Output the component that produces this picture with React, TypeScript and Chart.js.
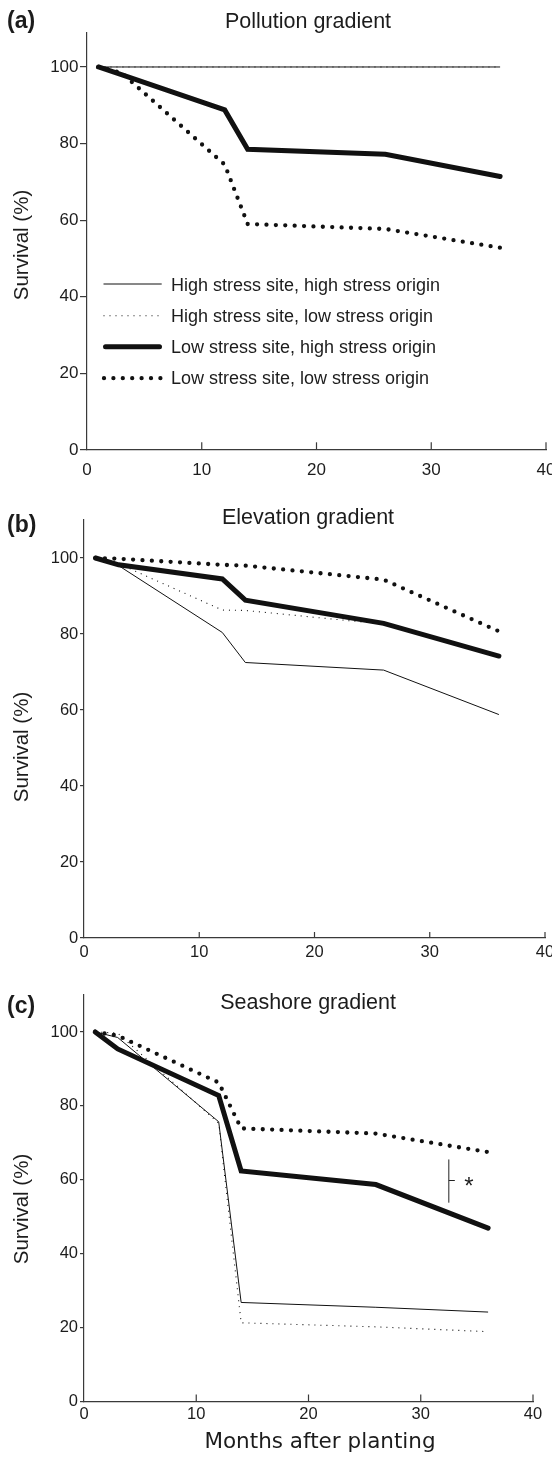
import React, { useEffect, useRef } from 'react';
import { Chart, registerables } from 'chart.js';

Chart.register(...registerables);

// ---------- data ----------
const months = [1, 3, 12, 14, 26, 36];
const xTickValues = [0, 10, 20, 30, 40];
const yTickValues = [0, 20, 40, 60, 80, 100];
const groupLabels = [
  'High stress site, high stress origin',
  'High stress site, low stress origin',
  'Low stress site, high stress origin',
  'Low stress site, low stress origin',
];

// (a) Pollution gradient
const pollutionHighHigh = [100, 100, 100, 100, 100, 100];
const pollutionHighLow = [100, 100, 100, 100, 100, 100];
const pollutionLowHigh = [100, 98, 88.8, 78.5, 77.2, 71.4];
const pollutionLowLow = [100, 98.5, 74.5, 59, 57.7, 52.8];

// (b) Elevation gradient
const elevationHighHigh = [100, 98, 80.4, 72.5, 70.5, 58.8];
const elevationHighLow = [100, 98.5, 86.3, 86.2, 82.6, 74.3];
const elevationLowHigh = [100, 98.2, 94.5, 88.9, 82.8, 74.2];
const elevationLowLow = [100, 99.8, 98.2, 98, 94.3, 80.7];

// (c) Seashore gradient
const seashoreHighHigh = [100, 98.5, 75.7, 26.8, 25.5, 24.2];
const seashoreHighLow = [100, 99.7, 75.3, 21.3, 20.2, 18.9];
const seashoreLowHigh = [100, 95.4, 82.8, 62.4, 58.7, 46.9];
const seashoreLowLow = [100, 99, 86.3, 73.9, 72.5, 67.5];

// significance bracket (data coordinates) in panel (c)
const sigBracket = { x: 32.5, yTop: 65.5, yBottom: 53.8, yMid: 59.8, starX: 34.3, label: '*' };

// ---------- styles ----------
const SANS = '"Liberation Sans", Arial, Helvetica, sans-serif';
const LINE = '#111111';
const AXIS = '#3a3a3a';
const TEXT = '#1c1c1c';

const seriesStyles: any[] = [
  { width: 1, dash: [], cap: 'butt' },
  { width: 1.1, dash: [1, 5], cap: 'butt' },
  { width: 5, dash: [], cap: 'round' },
  { width: 4.3, dash: [0, 9.4], cap: 'round' },
];

const panels: any[] = [
  {
    key: 'a', letter: '(a)', title: 'Pollution gradient',
    series: [pollutionHighHigh, pollutionHighLow, pollutionLowHigh, pollutionLowLow],
    top: 0, height: 485, chartLeft: 87, chartRight: 546, chartTop: 32.5, chartBottom: 450, yMax: 109,
    tickSize: 17, yTickLen: 7, yLabelPad: 1.5, xLabelPad: 10.3, xTickLen: 7.7,
    titleBaseline: 28.3, letterBaseline: 28.2, yTitleCenter: 245, legend: true,
  },
  {
    key: 'b', letter: '(b)', title: 'Elevation gradient',
    series: [elevationHighHigh, elevationHighLow, elevationLowHigh, elevationLowLow],
    top: 485, height: 485, chartLeft: 84, chartRight: 545, chartTop: 520, chartBottom: 938, yMax: 110,
    tickSize: 16.5, yTickLen: 4, yLabelPad: 1.7, xLabelPad: 4.1, xTickLen: 6,
    titleBaseline: 524.3, letterBaseline: 531.5, yTitleCenter: 747,
  },
  {
    key: 'c', letter: '(c)', title: 'Seashore gradient',
    series: [seashoreHighHigh, seashoreHighLow, seashoreLowHigh, seashoreLowLow],
    top: 970, height: 492, chartLeft: 84, chartRight: 533, chartTop: 995, chartBottom: 1401.5, yMax: 110,
    tickSize: 16.5, yTickLen: 4, yLabelPad: 2, xLabelPad: 3.5, xTickLen: 7,
    titleBaseline: 1009.3, letterBaseline: 1013, yTitleCenter: 1209,
    xTitle: 'Months after planting', xTitleBaseline: 1448.3, sig: true,
  },
];

function Panel({ cfg }: { cfg: any }) {
  const ref = useRef<HTMLCanvasElement>(null);

  useEffect(() => {
    const canvas = ref.current as HTMLCanvasElement;
    const top = cfg.top;

    const datasets = cfg.series.map((values: number[], i: number) => ({
      label: groupLabels[i],
      data: months.map((m, j) => ({ x: m, y: values[j] })),
      borderColor: LINE,
      backgroundColor: LINE,
      borderWidth: seriesStyles[i].width,
      borderDash: seriesStyles[i].dash,
      borderCapStyle: seriesStyles[i].cap,
      borderJoinStyle: 'miter',
      pointRadius: 0,
      pointHoverRadius: 0,
      fill: false,
      tension: 0,
    }));

    const decor = {
      id: 'decor' + cfg.key,
      afterDraw(chart: any) {
        const { ctx, chartArea, scales } = chart;
        const xs = scales.x;
        const ys = scales.y;
        ctx.save();

        // inward x ticks
        ctx.strokeStyle = AXIS;
        ctx.lineWidth = 1.2;
        xTickValues.forEach((v) => {
          if (v === 0) return;
          const px = xs.getPixelForValue(v);
          ctx.beginPath();
          ctx.moveTo(px, chartArea.bottom);
          ctx.lineTo(px, chartArea.bottom - cfg.xTickLen);
          ctx.stroke();
        });

        // panel title
        ctx.fillStyle = TEXT;
        ctx.textBaseline = 'alphabetic';
        ctx.textAlign = 'center';
        ctx.font = `21.5px ${SANS}`;
        ctx.fillText(cfg.title, 308, cfg.titleBaseline - top);

        // panel letter
        ctx.textAlign = 'left';
        ctx.font = `bold 23px ${SANS}`;
        ctx.fillText(cfg.letter, 7, cfg.letterBaseline - top);

        // y title
        ctx.save();
        ctx.translate(22, cfg.yTitleCenter - top);
        ctx.rotate(-Math.PI / 2);
        ctx.textAlign = 'center';
        ctx.textBaseline = 'middle';
        ctx.font = `20.5px ${SANS}`;
        ctx.fillText('Survival (%)', 0, 0);
        ctx.restore();

        // x title
        if (cfg.xTitle) {
          ctx.textAlign = 'center';
          ctx.textBaseline = 'alphabetic';
          ctx.font = `21.5px "DejaVu Sans", ${SANS}`;
          ctx.fillText(cfg.xTitle, 320, cfg.xTitleBaseline - top);
        }

        // legend
        if (cfg.legend) {
          const lineYs = [284, 315.8, 346.7, 378.2];
          const baselines = [290.7, 321.7, 352.7, 383.9];
          const starts = [103.5, 103.5, 105.5, 104];
          const ends = [161.7, 161, 159.5, 161];
          groupLabels.forEach((label, i) => {
            const st = seriesStyles[i];
            ctx.save();
            ctx.strokeStyle = LINE;
            ctx.lineWidth = st.width;
            ctx.setLineDash(st.dash);
            ctx.lineCap = st.cap;
            ctx.beginPath();
            ctx.moveTo(starts[i], lineYs[i] - top);
            ctx.lineTo(ends[i], lineYs[i] - top);
            ctx.stroke();
            ctx.restore();
            ctx.fillStyle = TEXT;
            ctx.textAlign = 'left';
            ctx.textBaseline = 'alphabetic';
            ctx.font = `18px ${SANS}`;
            ctx.fillText(label, 171, baselines[i] - top);
          });
        }

        // significance bracket
        if (cfg.sig) {
          const bx = xs.getPixelForValue(sigBracket.x);
          const y1 = ys.getPixelForValue(sigBracket.yTop);
          const y2 = ys.getPixelForValue(sigBracket.yBottom);
          const ym = ys.getPixelForValue(sigBracket.yMid);
          ctx.strokeStyle = '#222';
          ctx.lineWidth = 1;
          ctx.setLineDash([]);
          ctx.beginPath();
          ctx.moveTo(bx, y1);
          ctx.lineTo(bx, y2);
          ctx.moveTo(bx, ym);
          ctx.lineTo(bx + 6, ym);
          ctx.stroke();
          ctx.fillStyle = TEXT;
          ctx.textAlign = 'center';
          ctx.textBaseline = 'alphabetic';
          ctx.font = `24px ${SANS}`;
          ctx.fillText(sigBracket.label, xs.getPixelForValue(sigBracket.starX), ym + 13.5);
        }

        ctx.restore();
      },
    };

    const chart = new Chart(canvas, {
      type: 'line',
      data: { datasets },
      options: {
        responsive: false,
        maintainAspectRatio: false,
        animation: false,
        devicePixelRatio: 1,
        events: [],
        layout: {
          padding: { left: 0, right: 552 - cfg.chartRight, top: cfg.chartTop - top, bottom: 0 },
        },
        plugins: {
          legend: { display: false },
          title: { display: false },
          tooltip: { enabled: false },
        },
        scales: {
          x: {
            type: 'linear',
            min: 0,
            max: 40,
            afterBuildTicks: (s: any) => {
              s.ticks = xTickValues.map((v) => ({ value: v }));
            },
            afterFit: (s: any) => {
              s.height = cfg.height - (cfg.chartBottom - top);
              s.paddingLeft = 0;
              s.paddingRight = 0;
            },
            grid: { display: false, drawOnChartArea: false, drawTicks: false },
            border: { display: true, color: AXIS, width: 1.2 },
            ticks: {
              color: TEXT,
              font: { family: SANS, size: cfg.tickSize },
              padding: cfg.xLabelPad,
              maxRotation: 0,
              autoSkip: false,
            },
          },
          y: {
            type: 'linear',
            min: 0,
            max: cfg.yMax,
            afterBuildTicks: (s: any) => {
              s.ticks = yTickValues.map((v) => ({ value: v }));
            },
            afterFit: (s: any) => {
              s.width = cfg.chartLeft;
              s.paddingTop = 0;
              s.paddingBottom = 0;
            },
            grid: {
              display: true,
              drawOnChartArea: false,
              drawTicks: true,
              tickLength: cfg.yTickLen,
              color: AXIS,
              tickColor: AXIS,
              lineWidth: 1.2,
            },
            border: { display: true, color: AXIS, width: 1.2 },
            ticks: {
              color: TEXT,
              font: { family: SANS, size: cfg.tickSize },
              padding: cfg.yLabelPad,
              autoSkip: false,
            },
          },
        },
      } as any,
      plugins: [decor],
    } as any);

    return () => chart.destroy();
  }, [cfg]);

  return (
    <canvas
      ref={ref}
      width={552}
      height={cfg.height}
      style={{ position: 'absolute', left: 0, top: cfg.top, width: 552, height: cfg.height, display: 'block' }}
    />
  );
}

export default function App() {
  useEffect(() => {
    document.body.style.margin = '0';
    document.body.style.overflow = 'hidden';
  }, []);
  return (
    <div style={{ position: 'absolute', left: 0, top: 0, width: 552, height: 1462, background: '#fff' }}>
      {panels.map((p) => (
        <Panel key={p.key} cfg={p} />
      ))}
    </div>
  );
}
